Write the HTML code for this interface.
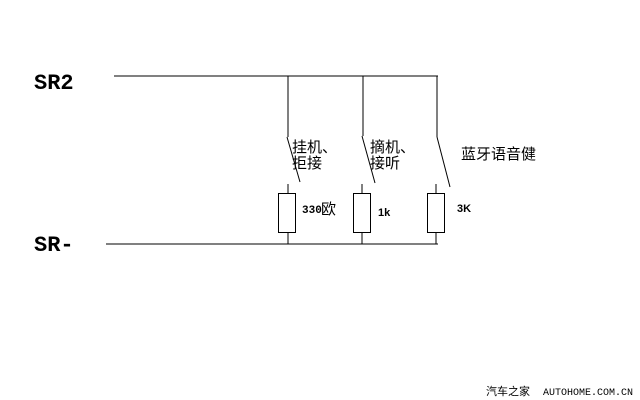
<!DOCTYPE html>
<html><head><style>
body{margin:0;background:#fff;width:640px;height:400px;overflow:hidden}
svg{display:block}
</style></head><body>
<svg width="640" height="400" xmlns="http://www.w3.org/2000/svg" shape-rendering="crispEdges">
<rect width="640" height="400" fill="#fff"/>
<g stroke="#000" stroke-width="1" fill="none">
<line x1="114" y1="76" x2="438" y2="76"/>
<line x1="106" y1="244" x2="438" y2="244"/>
<line x1="288" y1="76" x2="288" y2="137"/>
<line x1="363" y1="76" x2="363" y2="136"/>
<line x1="437" y1="76" x2="437" y2="137"/>
<line x1="288" y1="184" x2="288" y2="244"/>
<line x1="362" y1="184" x2="362" y2="244"/>
<line x1="436" y1="184" x2="436" y2="244"/>
<rect x="278.5" y="193.5" width="17" height="39" fill="#fff"/>
<rect x="353.5" y="193.5" width="17" height="39" fill="#fff"/>
<rect x="427.5" y="193.5" width="17" height="39" fill="#fff"/>
</g>
<g stroke="#000" stroke-width="1" shape-rendering="auto">
<line x1="287" y1="137" x2="300" y2="182"/>
<line x1="362" y1="136" x2="375" y2="183"/>
<line x1="437" y1="137" x2="450" y2="187"/>
</g>
<g font-family="Liberation Sans, sans-serif" font-weight="bold" fill="#000">
<text x="34" y="89" font-size="22" font-family="Liberation Mono, monospace">SR2</text>
<text x="34" y="251" font-size="22" font-family="Liberation Mono, monospace">SR-</text>
<text x="302" y="213" font-size="11" font-family="Liberation Mono, monospace">330</text>
<text x="378" y="216" font-size="11">1k</text>
<text x="457" y="212" font-size="11">3K</text>
</g>
<g font-family="Liberation Sans, 'Noto Sans CJK SC', sans-serif" font-size="15" fill="#000">
<text x="321" y="214">欧</text>
<text x="292" y="152">挂机、</text>
<text x="292" y="168">拒接</text>
<text x="370" y="152">摘机、</text>
<text x="370" y="168">接听</text>
<text x="461" y="159">蓝牙语音健</text>
</g>
<text x="486" y="395" font-family="Liberation Sans, 'Noto Sans CJK SC', sans-serif" font-size="11" fill="#000">汽车之家</text>
<text x="543" y="395" font-family="Liberation Mono, monospace" font-size="10" fill="#000">AUTOHOME.COM.CN</text>
</svg>
</body></html>
